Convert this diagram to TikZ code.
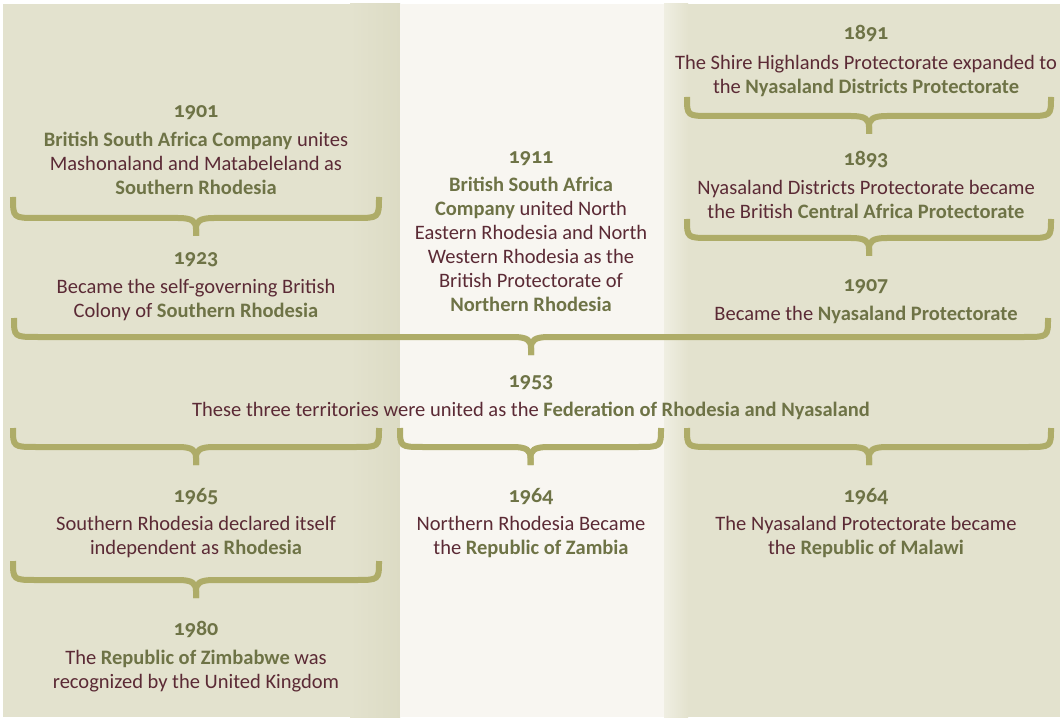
\documentclass[tikz,border=0pt]{standalone}
\usepackage{fontspec}
\setmainfont{Carlito}[Numbers=OldStyle]
\definecolor{tanc}{HTML}{E3E2CE}
\definecolor{tandark}{HTML}{DCDBC4}
\definecolor{tanlight}{HTML}{EFEEE2}
\definecolor{midc}{HTML}{F8F6F1}
\definecolor{bracec}{HTML}{AEAC68}
\definecolor{yearc}{HTML}{6E7346}
\definecolor{bodyc}{HTML}{5B2A35}
\newcommand\hl[1]{\textcolor{yearc}{\bfseries #1}}
\newcommand\ml[1]{\begin{tabular}[t]{@{}c@{}}#1\end{tabular}}
\newcommand\hbrace[4]{%
  \draw[brc] (#1,#3) .. controls (#1,#4) and (#1,#4) .. ({#1+24},#4)
     -- ({(#1+#2)/2-18},#4) .. controls ({(#1+#2)/2-4},#4) and ({(#1+#2)/2},{#4+3}) .. ({(#1+#2)/2},{#4+11}) -- ({(#1+#2)/2},{#4+18});
  \draw[brc] (#2,#3) .. controls (#2,#4) and (#2,#4) .. ({#2-24},#4)
     -- ({(#1+#2)/2+18},#4) .. controls ({(#1+#2)/2+4},#4) and ({(#1+#2)/2},{#4+3}) .. ({(#1+#2)/2},{#4+11}) -- ({(#1+#2)/2},{#4+18});
}
\begin{document}
\begin{tikzpicture}[x=1pt,y=-1pt,
  yr/.style={anchor=base, inner sep=0pt, font=\fontsize{22}{25}\selectfont\bfseries, text=yearc},
  txt/.style={anchor=base, inner sep=0pt, font=\fontsize{20.5}{24}\selectfont, text=bodyc},
  brc/.style={draw=bracec, line width=6pt}]
\useasboundingbox (0,0) rectangle (1060,719);
\fill[white] (0,0) rectangle (1060,719);
% backgrounds
\fill[tanc] (3,4) rectangle (400,717);
\shade[left color=tanc, right color=tandark] (350,4) rectangle (400,717);
\fill[midc] (400,4) rectangle (664,717);
\fill[tanc] (664,4) rectangle (1060,717);
\shade[left color=tanlight, right color=tanc] (664,4) rectangle (688,717);
% braces
\hbrace{13}{379}{197}{218}
\hbrace{687}{1051}{97}{116}
\hbrace{687}{1051}{219}{238}
\hbrace{14}{1048}{318}{337}
\hbrace{13}{379}{428}{447}
\hbrace{400}{661}{428}{447}
\hbrace{687}{1051}{428}{447}
\hbrace{13}{379}{561}{580}
% texts
\node[yr] (y1901) at (196,118) {1901};
\node[txt] (t1901) at (196,147) {\ml{\hl{British South Africa Company} unites\\Mashonaland and Matabeleland as\\\hl{Southern Rhodesia}}};
\node[yr] (y1923) at (196,265) {1923};
\node[txt] (t1923) at (196,294) {\ml{Became the self-governing British\\Colony of \hl{Southern Rhodesia}}};
\node[yr] (y1911) at (531,164) {1911};
\node[txt] (t1911) at (531,192) {\ml{\hl{British South Africa}\\\hl{Company} united North\\Eastern Rhodesia and North\\Western Rhodesia as the\\British Protectorate of\\\hl{Northern Rhodesia}}};
\node[yr] (y1891) at (866,40) {1891};
\node[txt] (t1891) at (866,70) {\ml{The Shire Highlands Protectorate expanded to\\the \hl{Nyasaland Districts Protectorate}}};
\node[yr] (y1893) at (866,166) {1893};
\node[txt] (t1893) at (866,195) {\ml{Nyasaland Districts Protectorate became\\the British \hl{Central Africa Protectorate}}};
\node[yr] (y1907) at (866,292) {1907};
\node[txt] (t1907) at (866,320) {\ml{Became the \hl{Nyasaland Protectorate}}};
\node[yr] (y1953) at (531,387) {1953};
\node[txt] (t1953) at (531,416) {\ml{These three territories were united as the \hl{Federation of Rhodesia and Nyasaland}}};
\node[yr] (y1965) at (196,502) {1965};
\node[txt] (t1965) at (196,530) {\ml{Southern Rhodesia declared itself\\independent as \hl{Rhodesia}}};
\node[yr] (y1964a) at (531,502) {1964};
\node[txt] (t1964a) at (531,530) {\ml{Northern Rhodesia Became\\the \hl{Republic of Zambia}}};
\node[yr] (y1964b) at (866,502) {1964};
\node[txt] (t1964b) at (866,530) {\ml{The Nyasaland Protectorate became\\the \hl{Republic of Malawi}}};
\node[yr] (y1980) at (196,635) {1980};
\node[txt] (t1980) at (196,664) {\ml{The \hl{Republic of Zimbabwe} was\\recognized by the United Kingdom}};
\end{tikzpicture}
\end{document}
